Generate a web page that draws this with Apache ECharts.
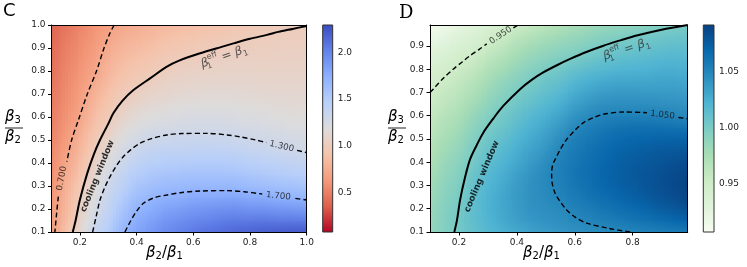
<!DOCTYPE html>
<html><head><meta charset="utf-8">
<script src="https://cdn.jsdelivr.net/npm/echarts@6/dist/echarts.min.js"></script>
<style>html,body{margin:0;padding:0;background:#fff}#c{width:747px;height:267px}</style>
</head><body><div id="c"></div>
<script>
// ---------- grid coordinates ----------
const cX = [0.10,0.15,0.20,0.25,0.30,0.35,0.40,0.45,0.50,0.55,0.60,0.65,0.70,0.75,0.80,0.85,0.90,0.95,1.00];
const cY = [0.10,0.15,0.20,0.25,0.30,0.35,0.40,0.45,0.50,0.55,0.60,0.65,0.70,0.75,0.80,0.85,0.90,0.95,1.00];
const dX = [0.10,0.15,0.20,0.25,0.30,0.35,0.40,0.45,0.50,0.55,0.60,0.65,0.70,0.75,0.80,0.85,0.90,0.95,0.99];
const dY = [0.10,0.15,0.20,0.25,0.30,0.35,0.40,0.45,0.50,0.55,0.60,0.65,0.70,0.75,0.80,0.85,0.90,0.95,0.99];

// ---------- panel C values: one column per x (values for y from bottom to top) ----------
const cColumns = [
 [0.65,0.635,0.62,0.605,0.59,0.575,0.56,0.545,0.53,0.515,0.50,0.485,0.47,0.455,0.44,0.425,0.41,0.395,0.38],
 [0.88,0.84,0.81,0.79,0.77,0.735,0.70,0.67,0.64,0.615,0.59,0.575,0.56,0.545,0.53,0.515,0.50,0.48,0.46],
 [1.11,1.07,1.03,0.99,0.95,0.90,0.86,0.82,0.78,0.74,0.70,0.675,0.65,0.63,0.61,0.59,0.57,0.55,0.53],
 [1.33,1.28,1.23,1.18,1.14,1.09,1.04,0.99,0.95,0.90,0.86,0.82,0.78,0.735,0.695,0.67,0.645,0.62,0.60],
 [1.48,1.44,1.39,1.35,1.31,1.26,1.20,1.14,1.08,1.02,0.97,0.93,0.89,0.85,0.81,0.78,0.74,0.70,0.67],
 [1.67,1.61,1.55,1.49,1.43,1.38,1.32,1.26,1.20,1.14,1.08,1.025,0.98,0.93,0.89,0.85,0.81,0.765,0.72],
 [1.80,1.75,1.69,1.62,1.55,1.48,1.41,1.34,1.27,1.21,1.15,1.09,1.03,0.98,0.94,0.89,0.85,0.80,0.76],
 [1.88,1.82,1.75,1.68,1.60,1.53,1.46,1.39,1.31,1.25,1.19,1.13,1.08,1.02,0.97,0.93,0.88,0.84,0.80],
 [1.95,1.89,1.81,1.72,1.64,1.56,1.48,1.41,1.33,1.26,1.20,1.15,1.10,1.06,1.01,0.97,0.93,0.88,0.83],
 [2.00,1.93,1.84,1.74,1.65,1.57,1.49,1.41,1.34,1.275,1.22,1.17,1.12,1.08,1.04,0.995,0.95,0.905,0.86],
 [2.05,1.97,1.88,1.77,1.67,1.58,1.50,1.42,1.35,1.28,1.23,1.18,1.13,1.09,1.05,1.01,0.97,0.925,0.88],
 [2.09,2.00,1.90,1.78,1.67,1.58,1.50,1.42,1.35,1.28,1.23,1.18,1.14,1.10,1.06,1.025,0.99,0.945,0.90],
 [2.12,2.03,1.92,1.79,1.67,1.58,1.50,1.42,1.34,1.28,1.23,1.18,1.14,1.10,1.07,1.04,1.005,0.96,0.92],
 [2.15,2.05,1.93,1.80,1.67,1.57,1.49,1.41,1.33,1.27,1.22,1.18,1.14,1.10,1.07,1.045,1.015,0.98,0.94],
 [2.17,2.05,1.91,1.77,1.64,1.54,1.46,1.38,1.31,1.26,1.21,1.17,1.13,1.10,1.07,1.045,1.02,0.995,0.955],
 [2.19,2.06,1.91,1.76,1.62,1.52,1.44,1.36,1.29,1.24,1.20,1.16,1.12,1.09,1.065,1.04,1.02,1.00,0.975],
 [2.20,2.05,1.89,1.73,1.60,1.50,1.42,1.34,1.28,1.23,1.19,1.15,1.12,1.095,1.07,1.05,1.03,1.01,0.985],
 [2.21,2.05,1.88,1.71,1.58,1.48,1.40,1.32,1.265,1.215,1.175,1.14,1.115,1.09,1.07,1.05,1.03,1.015,0.995],
 [2.22,2.04,1.86,1.68,1.56,1.46,1.38,1.295,1.25,1.21,1.17,1.14,1.115,1.09,1.07,1.05,1.035,1.02,1.00]
];

// ---------- panel D values: one column per x ----------
const dColumns = [
 [0.985,0.984,0.982,0.980,0.978,0.975,0.972,0.968,0.964,0.960,0.957,0.953,0.950,0.945,0.940,0.933,0.925,0.917,0.908],
 [0.995,0.995,0.994,0.992,0.990,0.987,0.984,0.980,0.976,0.972,0.967,0.962,0.957,0.952,0.946,0.940,0.932,0.924,0.916],
 [1.003,1.003,1.001,0.999,0.997,0.994,0.991,0.987,0.983,0.979,0.974,0.969,0.964,0.958,0.952,0.946,0.939,0.931,0.924],
 [1.011,1.013,1.013,1.012,1.010,1.007,1.003,0.999,0.995,0.990,0.985,0.979,0.973,0.967,0.960,0.952,0.944,0.937,0.931],
 [1.018,1.021,1.022,1.022,1.020,1.017,1.013,1.009,1.005,1.000,0.995,0.989,0.983,0.977,0.970,0.962,0.953,0.945,0.939],
 [1.024,1.028,1.030,1.030,1.028,1.025,1.021,1.017,1.012,1.007,1.003,0.998,0.992,0.986,0.979,0.970,0.961,0.952,0.945],
 [1.029,1.034,1.036,1.037,1.036,1.033,1.029,1.025,1.020,1.015,1.010,1.005,1.000,0.993,0.986,0.979,0.971,0.961,0.951],
 [1.033,1.039,1.042,1.043,1.043,1.041,1.037,1.033,1.028,1.023,1.018,1.012,1.006,1.000,0.993,0.986,0.978,0.968,0.958],
 [1.037,1.042,1.045,1.047,1.048,1.048,1.045,1.040,1.035,1.030,1.024,1.018,1.012,1.006,0.999,0.991,0.983,0.974,0.965],
 [1.040,1.044,1.048,1.051,1.053,1.054,1.053,1.050,1.045,1.039,1.032,1.025,1.018,1.011,1.004,0.996,0.988,0.979,0.972],
 [1.043,1.048,1.052,1.056,1.059,1.060,1.059,1.057,1.053,1.048,1.041,1.034,1.026,1.018,1.010,1.000,0.991,0.983,0.977],
 [1.045,1.051,1.056,1.061,1.064,1.065,1.064,1.062,1.059,1.054,1.047,1.040,1.032,1.024,1.015,1.005,0.996,0.988,0.981],
 [1.047,1.054,1.060,1.065,1.069,1.070,1.069,1.067,1.063,1.058,1.051,1.044,1.036,1.027,1.018,1.009,1.000,0.992,0.985],
 [1.049,1.057,1.064,1.069,1.073,1.074,1.073,1.071,1.067,1.062,1.053,1.045,1.038,1.030,1.021,1.012,1.004,0.995,0.988],
 [1.051,1.060,1.067,1.073,1.076,1.077,1.076,1.073,1.069,1.063,1.053,1.045,1.038,1.030,1.022,1.014,1.006,0.998,0.990],
 [1.053,1.063,1.071,1.077,1.080,1.080,1.078,1.075,1.070,1.063,1.053,1.045,1.037,1.030,1.023,1.016,1.009,1.001,0.993],
 [1.055,1.066,1.075,1.081,1.083,1.083,1.081,1.077,1.071,1.063,1.052,1.044,1.037,1.031,1.025,1.018,1.011,1.004,0.996],
 [1.057,1.069,1.079,1.085,1.087,1.086,1.083,1.078,1.071,1.062,1.050,1.043,1.037,1.031,1.025,1.019,1.013,1.006,1.000],
 [1.059,1.072,1.082,1.088,1.090,1.089,1.085,1.079,1.071,1.061,1.048,1.041,1.035,1.029,1.024,1.018,1.012,1.006,1.001]
];

// ---------- colour scales ----------
const cRange = [0.08, 2.29];
const dRange = [0.907, 1.092];
const coolwarmR = ['#b40426','#dd604c','#f49a7b','#f5c4ac','#dddcdc','#b9d0f9','#8db0fe','#6282ea','#3b4cc0'];
const gnbu = ['#f7fcf0','#e0f3db','#ccebc5','#a8ddb5','#7bccc4','#4eb3d3','#2b8cbe','#0868ac','#084081'];

// ---------- ticks ----------
const cTicksX = [0.2,0.4,0.6,0.8,1.0];
const cTicksY = [0.1,0.2,0.3,0.4,0.5,0.6,0.7,0.8,0.9,1.0];
const dTicksX = [0.2,0.4,0.6,0.8];
const dTicksY = [0.1,0.2,0.3,0.4,0.5,0.6,0.7,0.8,0.9];
const cBarTicks = [0.5,1.0,1.5,2.0];
const dBarTicks = [0.95,1.00,1.05];

// ---------- contour lines (x, y), split where a label sits ----------
const cLine070a = [[0.321,1.0],[0.306,0.964],[0.285,0.899],[0.260,0.804],[0.226,0.699],[0.195,0.587],[0.171,0.500],[0.154,0.406]];
const cLine070b = [[0.124,0.254],[0.118,0.181],[0.112,0.100]];
const cLine100 = [[0.175,0.10],[0.185,0.15],[0.200,0.239],[0.226,0.355],[0.250,0.44],[0.271,0.50],[0.300,0.57],[0.318,0.616],[0.350,0.67],[0.389,0.717],[0.450,0.77],[0.507,0.819],[0.550,0.845],[0.624,0.877],[0.700,0.905],[0.742,0.92],[0.800,0.94],[0.860,0.957],[0.900,0.97],[0.950,0.983],[1.000,0.996]];
const cLine130a = [[0.245,0.10],[0.258,0.17],[0.271,0.239],[0.290,0.30],[0.306,0.34],[0.330,0.39],[0.353,0.427],[0.380,0.458],[0.412,0.486],[0.450,0.505],[0.507,0.522],[0.560,0.528],[0.648,0.529],[0.720,0.522],[0.765,0.514],[0.820,0.50],[0.858,0.489]];
const cLine130b = [[0.966,0.455],[1.000,0.445]];
const cLine170a = [[0.359,0.10],[0.380,0.15],[0.400,0.19],[0.424,0.225],[0.460,0.248],[0.507,0.261],[0.560,0.272],[0.624,0.278],[0.718,0.28],[0.780,0.275],[0.843,0.265]];
const cLine170b = [[0.960,0.246],[1.000,0.239]];

const dLine095a = [[0.100,0.700],[0.111,0.714],[0.145,0.76],[0.180,0.80],[0.210,0.83],[0.238,0.858],[0.270,0.885],[0.296,0.909]];
const dLine095b = [[0.388,0.978],[0.405,0.99]];
const dLine100 = [[0.184,0.10],[0.193,0.15],[0.204,0.238],[0.220,0.33],[0.238,0.411],[0.260,0.47],[0.284,0.527],[0.320,0.59],[0.353,0.642],[0.411,0.714],[0.450,0.753],[0.491,0.786],[0.540,0.818],[0.584,0.844],[0.640,0.874],[0.699,0.901],[0.760,0.925],[0.814,0.945],[0.900,0.97],[0.990,0.99]];
const dLine105a = [[0.791,0.10],[0.720,0.115],[0.641,0.138],[0.600,0.165],[0.572,0.195],[0.550,0.23],[0.532,0.267],[0.522,0.31],[0.520,0.354],[0.524,0.39],[0.532,0.411],[0.550,0.455],[0.572,0.498],[0.600,0.537],[0.630,0.57],[0.665,0.592],[0.699,0.606],[0.768,0.616],[0.849,0.613]];
const dLine105b = [[0.958,0.592],[0.990,0.587]];

// ---------- in-plot labels: [x, y, rotation] ----------
const cLabelPos = {c070:[0.136,0.333,80], c130:[0.912,0.472,-13], c170:[0.900,0.256,-6], cool:[0.262,0.343,68], beta:[0.709,0.862,19]};
const dLabelPos = {d095:[0.344,0.945,33], d105:[0.903,0.603,-7], cool:[0.279,0.339,67], beta:[0.779,0.884,18]};

// ================= build =================
const FONT = 'DejaVu Sans';
function buildCells(xs, ys, cols){
  const out = [];
  for (let i = 0; i < xs.length - 1; i++){
    for (let j = 0; j < ys.length - 1; j++){
      out.push([xs[i], xs[i+1], ys[j], ys[j+1], cols[i][j], cols[i+1][j], cols[i][j+1], cols[i+1][j+1]]);
    }
  }
  return out;
}
// each cell between four samples is shaded in thin vertical strips (display only)
function cellRenderer(colors, range, K){
  const norm = v => Math.max(0, Math.min(1, (v - range[0]) / (range[1] - range[0])));
  return function(params, api){
    const pa = api.coord([api.value(0), api.value(2)]);
    const pb = api.coord([api.value(1), api.value(3)]);
    const v00 = api.value(4), v10 = api.value(5), v01 = api.value(6), v11 = api.value(7);
    const yTop = Math.floor(pb[1]), yBot = Math.ceil(pa[1]);
    const children = [];
    for (let k = 0; k < K; k++){
      const t0 = k / K, t1 = (k + 1) / K, tc = (k + 0.5) / K;
      const sx0 = Math.floor(pa[0] + (pb[0] - pa[0]) * t0);
      const sx1 = Math.ceil(pa[0] + (pb[0] - pa[0]) * t1);
      const cb = echarts.color.lerp(norm(v00 + (v10 - v00) * tc), colors);
      const ct = echarts.color.lerp(norm(v01 + (v11 - v01) * tc), colors);
      children.push({type:'rect', shape:{x:sx0, y:yTop, width:sx1 - sx0, height:yBot - yTop},
        style:{fill:new echarts.graphic.LinearGradient(0,1,0,0,[{offset:0,color:cb},{offset:1,color:ct}])}});
    }
    return {type:'group', children};
  };
}
function barRenderer(colors){
  return function(params, api){
    const p0 = api.coord([0, api.value(0)]);
    const p1 = api.coord([1, api.value(1)]);
    const stops = colors.map((c,k) => ({offset:k/(colors.length-1), color:c}));
    return {type:'rect', shape:{x:p0[0], y:p1[1], width:p1[0]-p0[0], height:p0[1]-p1[1]},
      style:{fill:new echarts.graphic.LinearGradient(0,1,0,0,stops), stroke:'#333', lineWidth:1}};
  };
}
function contour(data, xi, yi, solid){
  return {type:'line', data:data, xAxisIndex:xi, yAxisIndex:yi, showSymbol:false, symbol:'none', smooth:0.3, silent:true, z:4,
    lineStyle:{color:'#000', width: solid ? 2 : 1.4, type: solid ? 'solid' : [5,3]}, animation:false};
}
function labelItem(pos, text, extra){
  return {value:[pos[0], pos[1]], label:Object.assign({show:true, position:'inside', rotate:pos[2], formatter:text,
    fontSize:8.7, fontFamily:FONT, color:'#111'}, extra || {})};
}
const betaRich = {
  b:{fontSize:12, fontFamily:FONT, fontStyle:'italic', color:'#333', lineHeight:18, verticalAlign:'middle'},
  z:{fontSize:8, fontFamily:FONT, color:'#333', lineHeight:18, verticalAlign:'bottom', width:0, padding:[0,0,1,0]},
  s:{fontSize:8, fontFamily:FONT, color:'#333', lineHeight:18, verticalAlign:'bottom', padding:[0,0,1,0]},
  p:{fontSize:8, fontFamily:FONT, color:'#333', lineHeight:18, verticalAlign:'top'},
  t:{fontSize:12, fontFamily:FONT, color:'#333', lineHeight:18, verticalAlign:'middle'}
};
const betaText = '{b|β}{z|1}{p|eff}{t| = }{b|β}{s|1}';
function labelSeries(items, xi, yi){
  return {type:'scatter', xAxisIndex:xi, yAxisIndex:yi, symbolSize:1, itemStyle:{color:'rgba(0,0,0,0)'}, silent:true, z:6,
    data:items, animation:false};
}
function mainAxes(gridIndex, xmin, xmax, xticks){
  const fmt = v => Number(v).toFixed(1);
  return [
    {type:'value', gridIndex, min:xmin, max:xmax, z:5, splitLine:{show:false},
     axisLine:{show:true, onZero:false, lineStyle:{color:'#000', width:1}},
     axisTick:{show:true, customValues:xticks, length:3.5, lineStyle:{color:'#000', width:1}},
     axisLabel:{show:true, customValues:xticks, formatter:fmt, fontSize:9, fontFamily:FONT, color:'#222', margin:6}},
    {type:'value', gridIndex, position:'top', min:xmin, max:xmax, z:5, splitLine:{show:false},
     axisLine:{show:true, onZero:false, lineStyle:{color:'#000', width:1}}, axisTick:{show:false}, axisLabel:{show:false}}
  ];
}
function mainYAxes(gridIndex, ymin, ymax, yticks){
  const fmt = v => Number(v).toFixed(1);
  return [
    {type:'value', gridIndex, min:ymin, max:ymax, z:5, splitLine:{show:false},
     axisLine:{show:true, onZero:false, lineStyle:{color:'#000', width:1}},
     axisTick:{show:true, customValues:yticks, length:3.5, lineStyle:{color:'#000', width:1}},
     axisLabel:{show:true, customValues:yticks, formatter:fmt, fontSize:9, fontFamily:FONT, color:'#222', margin:6}},
    {type:'value', gridIndex, position:'right', min:ymin, max:ymax, z:5, splitLine:{show:false},
     axisLine:{show:true, onZero:false, lineStyle:{color:'#000', width:1}}, axisTick:{show:false}, axisLabel:{show:false}}
  ];
}

const chart = echarts.init(document.getElementById('c'), null, {renderer:'canvas'});
const xAxes = [].concat(
  mainAxes(0, 0.1, 1.0, cTicksX),
  [{type:'value', gridIndex:1, min:0, max:1, show:false}],
  mainAxes(2, 0.1, 0.99, dTicksX),
  [{type:'value', gridIndex:3, min:0, max:1, show:false}]
);
const yAxes = [].concat(
  mainYAxes(0, 0.1, 1.0, cTicksY),
  [{type:'value', gridIndex:1, position:'right', min:cRange[0], max:cRange[1], splitLine:{show:false}, axisLine:{show:false},
    axisTick:{show:true, customValues:cBarTicks, length:3.5, lineStyle:{color:'#333'}},
    axisLabel:{customValues:cBarTicks, formatter:v=>Number(v).toFixed(1), fontSize:9, fontFamily:FONT, color:'#222', margin:5}}],
  mainYAxes(2, 0.1, 0.99, dTicksY),
  [{type:'value', gridIndex:3, position:'right', min:dRange[0], max:dRange[1], splitLine:{show:false}, axisLine:{show:false},
    axisTick:{show:true, customValues:dBarTicks, length:3.5, lineStyle:{color:'#333'}},
    axisLabel:{customValues:dBarTicks, formatter:v=>Number(v).toFixed(2), fontSize:9, fontFamily:FONT, color:'#222', margin:5}}]
);
const fracRich = {b:{fontSize:15, fontFamily:FONT, fontStyle:'italic', color:'#222'}, s:{fontSize:10, fontFamily:FONT, color:'#222', verticalAlign:'bottom', padding:[6,0,0,0]}};
function fracGraphic(cx, lineY){
  return [
    {type:'text', left:cx-9, top:lineY-18, style:{text:'{b|β}{s|3}', rich:fracRich}},
    {type:'line', shape:{x1:cx-9, y1:lineY, x2:cx+9, y2:lineY}, style:{stroke:'#222', lineWidth:1}},
    {type:'text', left:cx-9, top:lineY+2, style:{text:'{b|β}{s|2}', rich:fracRich}}
  ];
}
const xTitleRich = Object.assign({t:{fontSize:15, fontFamily:FONT, color:'#222'}}, fracRich);
const option = {
  animation:false,
  backgroundColor:'#fff',
  grid:[
    {left:51.5, top:25, width:255.2, height:207},
    {left:322.7, top:25, width:10, height:207},
    {left:430, top:25, width:257.7, height:207},
    {left:703.3, top:25, width:10.7, height:207}
  ],
  xAxis:xAxes,
  yAxis:yAxes,
  graphic:[
    {type:'text', left:3, top:2, style:{text:'C', fontSize:18, fontFamily:FONT, fill:'#000'}},
    {type:'text', left:399, top:4, style:{text:'D', fontSize:18, fontFamily:'DejaVu Serif', fill:'#000'}},
    {type:'text', left:146, top:246, style:{text:'{b|β}{s|2}{t|/}{b|β}{s|1}', rich:xTitleRich}},
    {type:'text', left:523, top:246, style:{text:'{b|β}{s|2}{t|/}{b|β}{s|1}', rich:xTitleRich}}
  ].concat(fracGraphic(14, 128), fracGraphic(397, 128)),
  series:[
    {type:'custom', xAxisIndex:0, yAxisIndex:0, renderItem:cellRenderer(coolwarmR, cRange, 5), data:buildCells(cX, cY, cColumns),
     encode:{x:[0,1], y:[2,3]}, clip:true, silent:true, z:1},
    {type:'custom', xAxisIndex:2, yAxisIndex:2, renderItem:barRenderer(coolwarmR), data:[[cRange[0], cRange[1]]],
     encode:{y:[0,1]}, silent:true, z:1},
    {type:'custom', xAxisIndex:3, yAxisIndex:3, renderItem:cellRenderer(gnbu, dRange, 5), data:buildCells(dX, dY, dColumns),
     encode:{x:[0,1], y:[2,3]}, clip:true, silent:true, z:1},
    {type:'custom', xAxisIndex:5, yAxisIndex:5, renderItem:barRenderer(gnbu), data:[[dRange[0], dRange[1]]],
     encode:{y:[0,1]}, silent:true, z:1},
    contour(cLine070a,0,0,false), contour(cLine070b,0,0,false), contour(cLine100,0,0,true),
    contour(cLine130a,0,0,false), contour(cLine130b,0,0,false), contour(cLine170a,0,0,false), contour(cLine170b,0,0,false),
    contour(dLine095a,3,3,false), contour(dLine095b,3,3,false), contour(dLine100,3,3,true),
    contour(dLine105a,3,3,false), contour(dLine105b,3,3,false),
    labelSeries([
      labelItem(cLabelPos.c070, '0.700'),
      labelItem(cLabelPos.c130, '1.300'),
      labelItem(cLabelPos.c170, '1.700'),
      labelItem(cLabelPos.cool, 'cooling window', {fontWeight:'bold', fontSize:8.8, color:'#000'}),
      labelItem(cLabelPos.beta, betaText, {rich:betaRich})
    ], 0, 0),
    labelSeries([
      labelItem(dLabelPos.d095, '0.950'),
      labelItem(dLabelPos.d105, '1.050'),
      labelItem(dLabelPos.cool, 'cooling window', {fontWeight:'bold', fontSize:8.8, color:'#000'}),
      labelItem(dLabelPos.beta, betaText, {rich:betaRich})
    ], 3, 3)
  ]
};
chart.setOption(option);
</script>
</body></html>
